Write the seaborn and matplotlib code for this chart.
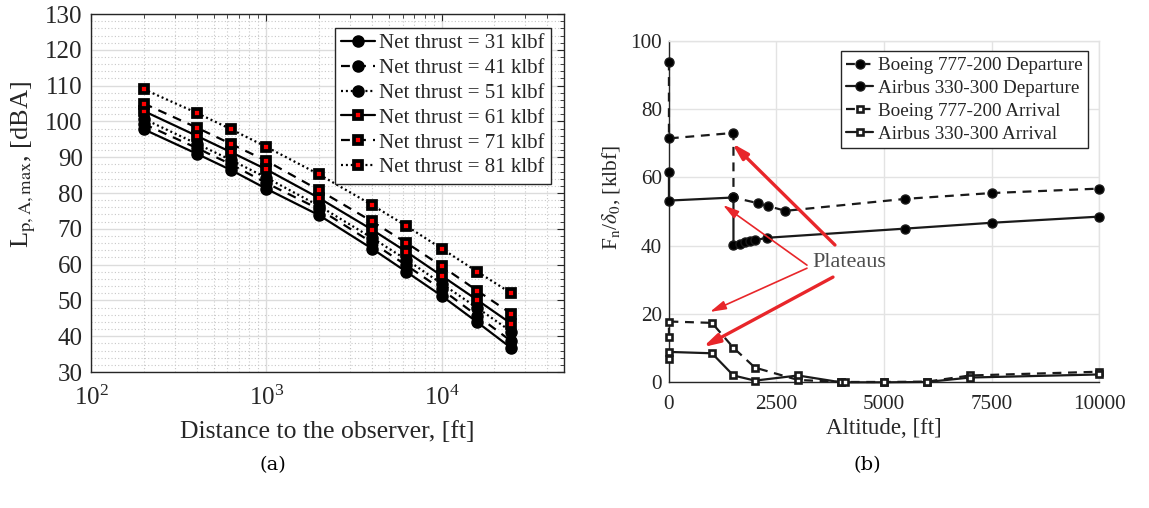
import numpy as np
import pandas as pd
import matplotlib
matplotlib.use("Agg")
import matplotlib.pyplot as plt
from matplotlib.ticker import LogLocator, MultipleLocator, NullFormatter
import seaborn as sns

# ---------------- data (a) ----------------
distance_ft = [200, 400, 630, 1000, 2000, 4000, 6300, 10000, 16000, 25000]
thrust_labels = ["Net thrust = 31 klbf", "Net thrust = 41 klbf", "Net thrust = 51 klbf",
                 "Net thrust = 61 klbf", "Net thrust = 71 klbf", "Net thrust = 81 klbf"]
lp_31 = [97.8, 91.0, 86.4, 81.2, 73.8, 64.5, 58.0, 51.3, 43.9, 36.7]
lp_41 = [99.3, 92.6, 88.0, 82.8, 75.5, 66.2, 59.8, 53.1, 45.7, 38.6]
lp_51 = [100.7, 93.8, 89.2, 84.3, 76.4, 67.5, 61.4, 54.7, 47.9, 41.3]
lp_61 = [102.9, 96.0, 91.4, 86.6, 78.6, 69.8, 63.6, 56.9, 50.1, 43.5]
lp_71 = [105.0, 98.3, 93.7, 89.0, 80.8, 72.1, 66.1, 59.6, 52.7, 46.3]
lp_81 = [109.0, 102.4, 97.8, 92.9, 85.2, 76.7, 70.8, 64.5, 58.0, 52.0]

# ---------------- data (b) ----------------
b777_dep_alt = [0, 0, 1500, 1500, 2080, 2300, 2710, 5500, 7500, 10000]
b777_dep_fn = [93.9, 71.4, 73.0, 54.1, 52.4, 51.6, 50.2, 53.7, 55.4, 56.7]
a330_dep_alt = [0, 0, 1500, 1500, 1650, 1770, 1880, 2000, 2270, 5500, 7500, 10000]
a330_dep_fn = [61.6, 53.2, 54.1, 40.1, 40.5, 41.0, 41.3, 41.6, 42.3, 45.0, 46.7, 48.5]
b777_arr_alt = [0, 0, 1000, 1500, 2000, 3000, 4000, 5000, 6000, 7000, 10000]
b777_arr_fn = [13.4, 17.8, 17.4, 10.1, 4.3, 0.7, 0.1, 0.1, 0.2, 2.0, 3.1]
a330_arr_alt = [0, 0, 1000, 1500, 2000, 3000, 4000, 4100, 5000, 6000, 7000, 10000]
a330_arr_fn = [6.8, 8.9, 8.5, 2.0, 0.5, 2.0, 0.0, 0.0, 0.0, 0.1, 1.4, 2.3]
series_b_labels = ["Boeing 777-200 Departure", "Airbus 330-300 Departure",
                   "Boeing 777-200 Arrival", "Airbus 330-300 Arrival"]

# ---------------- style ----------------
sns.set_theme(style="white")
plt.rcParams["font.family"] = ["Liberation Serif", "DejaVu Serif"]
plt.rcParams["mathtext.fontset"] = "stix"
TXT = "#262626"
plt.rcParams.update({
    "axes.edgecolor": TXT, "axes.labelcolor": TXT,
    "xtick.color": TXT, "ytick.color": TXT,
    "axes.linewidth": 1.0,
})

fig = plt.figure(figsize=(11.49, 5.08), dpi=100)
axA = fig.add_axes([0.0792, 0.2677, 0.4117, 0.7047])
axB = fig.add_axes([0.5822, 0.2474, 0.3743, 0.6725])

# ---------------- panel (a) ----------------
FSA_T = 18
FSA_L = 18.5
lw = 1.6
dash = (4, 3.2)
dot = (0.9, 1.3)
styles_a = [
    dict(ls="-", marker="o", ms=8, mfc="black", mec="black", mew=1),
    dict(ls=(0, dash), marker="o", ms=8, mfc="black", mec="black", mew=1),
    dict(ls=(0, dot), marker="o", ms=8, mfc="black", mec="black", mew=1),
    dict(ls="-", marker="s", ms=5.2, mfc="red", mec="black", mew=2.7),
    dict(ls=(0, dash), marker="s", ms=5.2, mfc="red", mec="black", mew=2.7),
    dict(ls=(0, dot), marker="s", ms=5.2, mfc="red", mec="black", mew=2.7),
]
all_lp = [lp_31, lp_41, lp_51, lp_61, lp_71, lp_81]
for lab, vals, st in zip(thrust_labels, all_lp, styles_a):
    df = pd.DataFrame({"d": distance_ft, "L": vals})
    sns.lineplot(data=df, x="d", y="L", ax=axA, color="black", lw=lw,
                 linestyle=st["ls"], marker=st["marker"], markersize=st["ms"],
                 markerfacecolor=st["mfc"], markeredgecolor=st["mec"],
                 markeredgewidth=st["mew"], label=lab, sort=False, estimator=None,
                 clip_on=False, zorder=3)

axA.set_xscale("log")
axA.set_xlim(100, 50000)
axA.set_ylim(30, 130)
axA.yaxis.set_major_locator(MultipleLocator(10))
axA.yaxis.set_minor_locator(MultipleLocator(2))
axA.xaxis.set_major_locator(LogLocator(base=10, numticks=10))
axA.xaxis.set_minor_locator(LogLocator(base=10, subs=np.arange(2, 10), numticks=20))
axA.xaxis.set_minor_formatter(NullFormatter())
axA.grid(True, which="major", color="#dcdcdc", lw=1.0, ls="-")
axA.grid(True, which="minor", color="#c8c8c8", lw=0.8, ls=(0, (1, 2)))
axA.set_axisbelow(True)
axA.tick_params(which="both", direction="in", top=True, right=True, labelsize=FSA_T)
axA.tick_params(which="major", length=5, width=0.8)
axA.tick_params(axis="y", which="major", pad=6)
axA.tick_params(axis="x", which="major", pad=10)
axA.tick_params(which="minor", length=3, width=0.6)
axA.set_xlabel("Distance to the observer, [ft]", fontsize=FSA_L, labelpad=8)
axA.set_ylabel(r"L$_{\mathrm{p,A,max}}$, [dBA]", fontsize=FSA_L + 0.5)
axA.yaxis.set_label_coords(-0.112, 0.58)
for s in axA.spines.values():
    s.set_color(TXT)
legA = axA.legend(loc="upper right", fontsize=15, frameon=True, fancybox=False,
                  edgecolor=TXT, framealpha=1, handlelength=1.6, handletextpad=0.2,
                  labelspacing=0.25, borderpad=0.3, borderaxespad=0.65)
legA.get_frame().set_linewidth(1.0)

# ---------------- panel (b) ----------------
lwb = 1.6
styles_b = [
    dict(ls=(0, (4, 3)), marker="o", ms=6.5, mfc="black", mew=1),
    dict(ls="-", marker="o", ms=6.5, mfc="black", mew=1),
    dict(ls=(0, (4, 3)), marker="s", ms=4.8, mfc="white", mew=1.9),
    dict(ls="-", marker="s", ms=4.8, mfc="white", mew=1.9),
]
xs_b = [b777_dep_alt, a330_dep_alt, b777_arr_alt, a330_arr_alt]
ys_b = [b777_dep_fn, a330_dep_fn, b777_arr_fn, a330_arr_fn]
for lab, xx, yy, st in zip(series_b_labels, xs_b, ys_b, styles_b):
    df = pd.DataFrame({"alt": xx, "fn": yy})
    sns.lineplot(data=df, x="alt", y="fn", ax=axB, color="#1a1a1a", lw=lwb,
                 linestyle=st["ls"], marker=st["marker"], markersize=st["ms"],
                 markerfacecolor=st["mfc"], markeredgecolor="#1a1a1a",
                 markeredgewidth=st["mew"], label=lab, sort=False, estimator=None,
                 clip_on=False, zorder=3)

axB.set_xlim(0, 10000)
axB.set_ylim(0, 100)
axB.set_xticks([0, 2500, 5000, 7500, 10000])
axB.set_yticks([0, 20, 40, 60, 80, 100])
axB.grid(True, which="major", color="#e3e3e3", lw=1.0)
axB.set_axisbelow(True)
axB.tick_params(direction="in", labelsize=15.2, length=4, width=0.8)
axB.tick_params(axis="x", pad=9)
axB.tick_params(axis="y", pad=5)
for side in ["top", "right"]:
    axB.spines[side].set_color("#e3e3e3")
for side in ["left", "bottom"]:
    axB.spines[side].set_color(TXT)
axB.set_xlabel("Altitude, [ft]", fontsize=16.5, labelpad=3)
axB.set_ylabel(r"F$_\mathrm{n}$/$\delta_0$, [klbf]", fontsize=15.5)
axB.yaxis.set_label_coords(-0.11, 0.54)
legB = axB.legend(loc="upper right", fontsize=13.8, frameon=True, fancybox=False,
                  edgecolor=TXT, framealpha=1, handlelength=1.4, handletextpad=0.25,
                  labelspacing=0.28, borderpad=0.3, borderaxespad=0.55)
legB.get_frame().set_linewidth(1.0)

# annotations "Plateaus"
arrow_heads = [(1465, 70.0), (1256, 51.9), (953, 20.6), (791, 10.3)]
arrow_tails = [(3860, 40.2), (3209, 34.3), (3209, 33.4), (3814, 30.8)]
arrow_widths = [2.4, 1.2, 1.2, 2.4]
for head, tail, w in zip(arrow_heads, arrow_tails, arrow_widths):
    axB.annotate("", xy=head, xytext=tail,
                 arrowprops=dict(arrowstyle="-|>,head_length=0.8,head_width=0.22",
                                 color="#e8262a", lw=w, shrinkA=0, shrinkB=0),
                 zorder=5)
axB.text(3330, 35.0, "Plateaus", fontsize=16, color="#4d4d4d", va="center", ha="left",
         zorder=6)

# captions
fig.text(273 / 1149, 1 - 465 / 508, "(a)", fontsize=14, ha="center", va="center",
         family=["DejaVu Serif"], color="black")
fig.text(867 / 1149, 1 - 465 / 508, "(b)", fontsize=14, ha="center", va="center",
         family=["DejaVu Serif"], color="black")

fig.savefig("out.png", dpi=100)
